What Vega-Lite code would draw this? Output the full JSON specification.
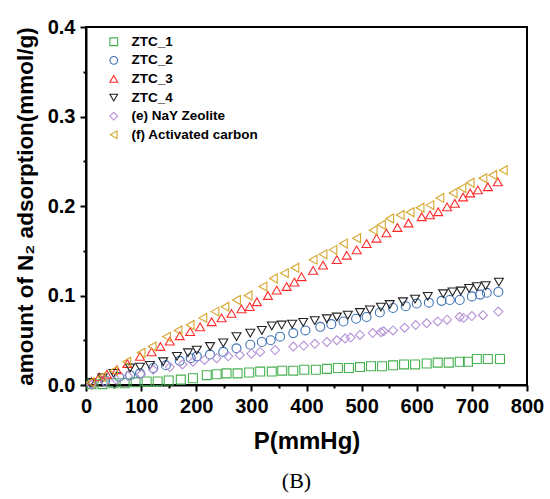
{
  "$schema": "https://vega.github.io/schema/vega-lite/v6.json",
  "width": 441,
  "height": 358,
  "autosize": "none",
  "padding": {"left": 86, "top": 27, "right": 23, "bottom": 114},
  "background": "white",
  "config": {
    "view": {"stroke": "black", "strokeWidth": 2},
    "font": "Liberation Sans"
  },
  "title": {
    "text": "(B)",
    "orient": "bottom",
    "anchor": "middle",
    "font": "Liberation Serif",
    "fontSize": 22,
    "fontWeight": "normal",
    "color": "black",
    "offset": 18,
    "dx": -10
  },
  "data": {
    "values": [
      {"s":"ZTC_1","P":10,"q":0.001},{"s":"ZTC_1","P":30,"q":0.001},{"s":"ZTC_1","P":50,"q":0.002},{"s":"ZTC_1","P":70,"q":0.002},{"s":"ZTC_1","P":90,"q":0.003},{"s":"ZTC_1","P":110,"q":0.004},{"s":"ZTC_1","P":130,"q":0.004},{"s":"ZTC_1","P":150,"q":0.005},{"s":"ZTC_1","P":172,"q":0.006},{"s":"ZTC_1","P":194,"q":0.0075},{"s":"ZTC_1","P":219,"q":0.011},{"s":"ZTC_1","P":237,"q":0.012},{"s":"ZTC_1","P":255,"q":0.013},{"s":"ZTC_1","P":275,"q":0.013},{"s":"ZTC_1","P":296,"q":0.014},{"s":"ZTC_1","P":316,"q":0.015},{"s":"ZTC_1","P":337,"q":0.015},{"s":"ZTC_1","P":356,"q":0.016},{"s":"ZTC_1","P":376,"q":0.016},{"s":"ZTC_1","P":396,"q":0.017},{"s":"ZTC_1","P":417,"q":0.017},{"s":"ZTC_1","P":437,"q":0.018},{"s":"ZTC_1","P":457,"q":0.019},{"s":"ZTC_1","P":477,"q":0.019},{"s":"ZTC_1","P":497,"q":0.020},{"s":"ZTC_1","P":517,"q":0.021},{"s":"ZTC_1","P":537,"q":0.021},{"s":"ZTC_1","P":557,"q":0.022},{"s":"ZTC_1","P":577,"q":0.023},{"s":"ZTC_1","P":597,"q":0.023},{"s":"ZTC_1","P":618,"q":0.024},{"s":"ZTC_1","P":638,"q":0.025},{"s":"ZTC_1","P":658,"q":0.025},{"s":"ZTC_1","P":678,"q":0.026},{"s":"ZTC_1","P":693,"q":0.026},{"s":"ZTC_1","P":709,"q":0.029},{"s":"ZTC_1","P":729,"q":0.029},{"s":"ZTC_1","P":751,"q":0.029},

      {"s":"ZTC_2","P":10,"q":0.002},{"s":"ZTC_2","P":35,"q":0.005},{"s":"ZTC_2","P":60,"q":0.009},{"s":"ZTC_2","P":80,"q":0.011},{"s":"ZTC_2","P":98,"q":0.013},{"s":"ZTC_2","P":122,"q":0.019},{"s":"ZTC_2","P":145,"q":0.022},{"s":"ZTC_2","P":170,"q":0.027},{"s":"ZTC_2","P":190,"q":0.030},{"s":"ZTC_2","P":201,"q":0.032},{"s":"ZTC_2","P":225,"q":0.034},{"s":"ZTC_2","P":249,"q":0.037},{"s":"ZTC_2","P":273,"q":0.041},{"s":"ZTC_2","P":298,"q":0.045},{"s":"ZTC_2","P":319,"q":0.048},{"s":"ZTC_2","P":335,"q":0.050},{"s":"ZTC_2","P":352,"q":0.054},{"s":"ZTC_2","P":376,"q":0.058},{"s":"ZTC_2","P":398,"q":0.061},{"s":"ZTC_2","P":425,"q":0.065},{"s":"ZTC_2","P":445,"q":0.068},{"s":"ZTC_2","P":467,"q":0.071},{"s":"ZTC_2","P":490,"q":0.074},{"s":"ZTC_2","P":509,"q":0.076},{"s":"ZTC_2","P":533,"q":0.081},{"s":"ZTC_2","P":557,"q":0.086},{"s":"ZTC_2","P":580,"q":0.088},{"s":"ZTC_2","P":600,"q":0.091},{"s":"ZTC_2","P":622,"q":0.092},{"s":"ZTC_2","P":645,"q":0.094},{"s":"ZTC_2","P":660,"q":0.095},{"s":"ZTC_2","P":678,"q":0.095},{"s":"ZTC_2","P":700,"q":0.099},{"s":"ZTC_2","P":715,"q":0.101},{"s":"ZTC_2","P":727,"q":0.103},{"s":"ZTC_2","P":748,"q":0.104},

      {"s":"ZTC_3","P":10,"q":0.004},{"s":"ZTC_3","P":24,"q":0.009},{"s":"ZTC_3","P":38,"q":0.012},{"s":"ZTC_3","P":56,"q":0.017},{"s":"ZTC_3","P":75,"q":0.024},{"s":"ZTC_3","P":98,"q":0.032},{"s":"ZTC_3","P":119,"q":0.037},{"s":"ZTC_3","P":135,"q":0.043},{"s":"ZTC_3","P":152,"q":0.049},{"s":"ZTC_3","P":170,"q":0.055},{"s":"ZTC_3","P":189,"q":0.0596},{"s":"ZTC_3","P":207,"q":0.065},{"s":"ZTC_3","P":228,"q":0.0707},{"s":"ZTC_3","P":246,"q":0.075},{"s":"ZTC_3","P":264,"q":0.080},{"s":"ZTC_3","P":282,"q":0.085},{"s":"ZTC_3","P":297,"q":0.0875},{"s":"ZTC_3","P":310,"q":0.093},{"s":"ZTC_3","P":330,"q":0.100},{"s":"ZTC_3","P":346,"q":0.106},{"s":"ZTC_3","P":364,"q":0.110},{"s":"ZTC_3","P":378,"q":0.115},{"s":"ZTC_3","P":391,"q":0.121},{"s":"ZTC_3","P":412,"q":0.128},{"s":"ZTC_3","P":430,"q":0.134},{"s":"ZTC_3","P":455,"q":0.140},{"s":"ZTC_3","P":473,"q":0.145},{"s":"ZTC_3","P":491,"q":0.151},{"s":"ZTC_3","P":509,"q":0.158},{"s":"ZTC_3","P":527,"q":0.164},{"s":"ZTC_3","P":545,"q":0.170},{"s":"ZTC_3","P":565,"q":0.176},{"s":"ZTC_3","P":585,"q":0.181},{"s":"ZTC_3","P":609,"q":0.188},{"s":"ZTC_3","P":624,"q":0.190},{"s":"ZTC_3","P":639,"q":0.1936},{"s":"ZTC_3","P":655,"q":0.199},{"s":"ZTC_3","P":669,"q":0.203},{"s":"ZTC_3","P":684,"q":0.210},{"s":"ZTC_3","P":697,"q":0.2145},{"s":"ZTC_3","P":711,"q":0.218},{"s":"ZTC_3","P":729,"q":0.2215},{"s":"ZTC_3","P":747,"q":0.227},

      {"s":"ZTC_4","P":8,"q":0.003},{"s":"ZTC_4","P":30,"q":0.008},{"s":"ZTC_4","P":50,"q":0.013},{"s":"ZTC_4","P":80,"q":0.019},{"s":"ZTC_4","P":98,"q":0.020},{"s":"ZTC_4","P":116,"q":0.022},{"s":"ZTC_4","P":140,"q":0.026},{"s":"ZTC_4","P":165,"q":0.032},{"s":"ZTC_4","P":185,"q":0.036},{"s":"ZTC_4","P":201,"q":0.039},{"s":"ZTC_4","P":225,"q":0.043},{"s":"ZTC_4","P":249,"q":0.047},{"s":"ZTC_4","P":273,"q":0.054},{"s":"ZTC_4","P":298,"q":0.058},{"s":"ZTC_4","P":319,"q":0.061},{"s":"ZTC_4","P":337,"q":0.066},{"s":"ZTC_4","P":355,"q":0.067},{"s":"ZTC_4","P":374,"q":0.068},{"s":"ZTC_4","P":394,"q":0.070},{"s":"ZTC_4","P":415,"q":0.072},{"s":"ZTC_4","P":437,"q":0.074},{"s":"ZTC_4","P":455,"q":0.076},{"s":"ZTC_4","P":475,"q":0.078},{"s":"ZTC_4","P":497,"q":0.081},{"s":"ZTC_4","P":515,"q":0.084},{"s":"ZTC_4","P":535,"q":0.087},{"s":"ZTC_4","P":551,"q":0.090},{"s":"ZTC_4","P":575,"q":0.093},{"s":"ZTC_4","P":597,"q":0.096},{"s":"ZTC_4","P":620,"q":0.099},{"s":"ZTC_4","P":648,"q":0.102},{"s":"ZTC_4","P":665,"q":0.104},{"s":"ZTC_4","P":680,"q":0.105},{"s":"ZTC_4","P":695,"q":0.108},{"s":"ZTC_4","P":709,"q":0.110},{"s":"ZTC_4","P":725,"q":0.111},{"s":"ZTC_4","P":749,"q":0.115},

      {"s":"(e) NaY Zeolite","P":10,"q":0.0},{"s":"(e) NaY Zeolite","P":34,"q":0.003},{"s":"(e) NaY Zeolite","P":55,"q":0.006},{"s":"(e) NaY Zeolite","P":76,"q":0.010},{"s":"(e) NaY Zeolite","P":100,"q":0.012},{"s":"(e) NaY Zeolite","P":122,"q":0.017},{"s":"(e) NaY Zeolite","P":152,"q":0.020},{"s":"(e) NaY Zeolite","P":175,"q":0.023},{"s":"(e) NaY Zeolite","P":194,"q":0.026},{"s":"(e) NaY Zeolite","P":215,"q":0.028},{"s":"(e) NaY Zeolite","P":237,"q":0.030},{"s":"(e) NaY Zeolite","P":258,"q":0.032},{"s":"(e) NaY Zeolite","P":279,"q":0.0335},{"s":"(e) NaY Zeolite","P":300,"q":0.035},{"s":"(e) NaY Zeolite","P":316,"q":0.037},{"s":"(e) NaY Zeolite","P":343,"q":0.039},{"s":"(e) NaY Zeolite","P":376,"q":0.043},{"s":"(e) NaY Zeolite","P":395,"q":0.044},{"s":"(e) NaY Zeolite","P":415,"q":0.046},{"s":"(e) NaY Zeolite","P":437,"q":0.048},{"s":"(e) NaY Zeolite","P":455,"q":0.050},{"s":"(e) NaY Zeolite","P":470,"q":0.052},{"s":"(e) NaY Zeolite","P":480,"q":0.053},{"s":"(e) NaY Zeolite","P":497,"q":0.056},{"s":"(e) NaY Zeolite","P":520,"q":0.058},{"s":"(e) NaY Zeolite","P":535,"q":0.059},{"s":"(e) NaY Zeolite","P":540,"q":0.060},{"s":"(e) NaY Zeolite","P":557,"q":0.061},{"s":"(e) NaY Zeolite","P":578,"q":0.064},{"s":"(e) NaY Zeolite","P":598,"q":0.067},{"s":"(e) NaY Zeolite","P":618,"q":0.069},{"s":"(e) NaY Zeolite","P":638,"q":0.071},{"s":"(e) NaY Zeolite","P":655,"q":0.073},{"s":"(e) NaY Zeolite","P":678,"q":0.076},{"s":"(e) NaY Zeolite","P":685,"q":0.075},{"s":"(e) NaY Zeolite","P":700,"q":0.077},{"s":"(e) NaY Zeolite","P":720,"q":0.078},{"s":"(e) NaY Zeolite","P":748,"q":0.082},

      {"s":"(f) Activated carbon","P":8,"q":0.003},{"s":"(f) Activated carbon","P":28,"q":0.009},{"s":"(f) Activated carbon","P":50,"q":0.016},{"s":"(f) Activated carbon","P":74,"q":0.026},{"s":"(f) Activated carbon","P":100,"q":0.036},{"s":"(f) Activated carbon","P":120,"q":0.043},{"s":"(f) Activated carbon","P":146,"q":0.054},{"s":"(f) Activated carbon","P":167,"q":0.061},{"s":"(f) Activated carbon","P":189,"q":0.067},{"s":"(f) Activated carbon","P":212,"q":0.075},{"s":"(f) Activated carbon","P":234,"q":0.082},{"s":"(f) Activated carbon","P":252,"q":0.0875},{"s":"(f) Activated carbon","P":273,"q":0.095},{"s":"(f) Activated carbon","P":294,"q":0.100},{"s":"(f) Activated carbon","P":321,"q":0.110},{"s":"(f) Activated carbon","P":340,"q":0.119},{"s":"(f) Activated carbon","P":360,"q":0.125},{"s":"(f) Activated carbon","P":379,"q":0.131},{"s":"(f) Activated carbon","P":412,"q":0.140},{"s":"(f) Activated carbon","P":430,"q":0.146},{"s":"(f) Activated carbon","P":448,"q":0.151},{"s":"(f) Activated carbon","P":467,"q":0.158},{"s":"(f) Activated carbon","P":491,"q":0.164},{"s":"(f) Activated carbon","P":521,"q":0.173},{"s":"(f) Activated carbon","P":536,"q":0.179},{"s":"(f) Activated carbon","P":551,"q":0.186},{"s":"(f) Activated carbon","P":570,"q":0.190},{"s":"(f) Activated carbon","P":588,"q":0.193},{"s":"(f) Activated carbon","P":606,"q":0.198},{"s":"(f) Activated carbon","P":624,"q":0.201},{"s":"(f) Activated carbon","P":642,"q":0.209},{"s":"(f) Activated carbon","P":666,"q":0.2145},{"s":"(f) Activated carbon","P":682,"q":0.220},{"s":"(f) Activated carbon","P":697,"q":0.226},{"s":"(f) Activated carbon","P":720,"q":0.231},{"s":"(f) Activated carbon","P":738,"q":0.2346},{"s":"(f) Activated carbon","P":757,"q":0.240}
    ]
  },
  "mark": {"type": "point", "filled": false, "size": 80, "strokeWidth": 1.1, "opacity": 1},
  "encoding": {
    "x": {
      "field": "P", "type": "quantitative",
      "scale": {"domain": [0, 800], "nice": false, "zero": false},
      "axis": {
        "title": "P(mmHg)",
        "titleFont": "Liberation Sans", "titleFontSize": 24, "titleFontWeight": "bold", "titleColor": "black",
        "titlePadding": 13,
        "values": [0,50,100,150,200,250,300,350,400,450,500,550,600,650,700,750,800],
        "labelExpr": "datum.value % 100 === 0 ? datum.value : ''",
        "labelFont": "Liberation Sans", "labelFontSize": 20, "labelFontWeight": "bold", "labelColor": "black",
        "labelPadding": 5,
        "labelOverlap": false,
        "labelFlush": false,
        "grid": false,
        "domainColor": "black", "domainWidth": 2,
        "tickColor": "black", "tickWidth": 2,
        "tickSize": {"condition": {"test": "datum.value % 100 === 0", "value": 6}, "value": 3}
      }
    },
    "y": {
      "field": "q", "type": "quantitative",
      "scale": {"domain": [0, 0.4], "nice": false},
      "axis": {
        "title": "amount of N₂ adsorption(mmol/g)",
        "titleFont": "Liberation Sans", "titleFontSize": 22.5, "titleFontWeight": "bold", "titleColor": "black",
        "titlePadding": 10,
        "values": [0,0.05,0.1,0.15,0.2,0.25,0.3,0.35,0.4],
        "labelExpr": "abs(datum.value*10 - round(datum.value*10)) < 0.001 ? format(datum.value, '.1f') : ''",
        "labelFont": "Liberation Sans", "labelFontSize": 20, "labelFontWeight": "bold", "labelColor": "black",
        "labelPadding": 5,
        "labelOverlap": false,
        "labelFlush": false,
        "grid": false,
        "domainColor": "black", "domainWidth": 2,
        "tickColor": "black", "tickWidth": 2,
        "tickSize": {"condition": {"test": "abs(datum.value*10 - round(datum.value*10)) < 0.001", "value": 6}, "value": 3}
      }
    },
    "color": {
      "field": "s", "type": "nominal",
      "scale": {
        "domain": ["ZTC_1","ZTC_2","ZTC_3","ZTC_4","(e) NaY Zeolite","(f) Activated carbon"],
        "range": ["#45b14f","#3f72b3","#ff2b2b","#222222","#b592d6","#d6a62c"]
      },
      "legend": {
        "title": null,
        "orient": "none",
        "legendX": 21,
        "legendY": 8,
        "labelFont": "Liberation Sans",
        "labelFontSize": 13.5,
        "labelFontWeight": "bold",
        "labelColor": "black",
        "labelOffset": 11,
        "rowPadding": 3.6,
        "symbolSize": 60,
        "symbolStrokeWidth": 1.1,
        "padding": 0
      }
    },
    "shape": {
      "field": "s", "type": "nominal",
      "scale": {
        "domain": ["ZTC_1","ZTC_2","ZTC_3","ZTC_4","(e) NaY Zeolite","(f) Activated carbon"],
        "range": ["square","circle","triangle-up","triangle-down","diamond","triangle-left"]
      }
    }
  }
}
